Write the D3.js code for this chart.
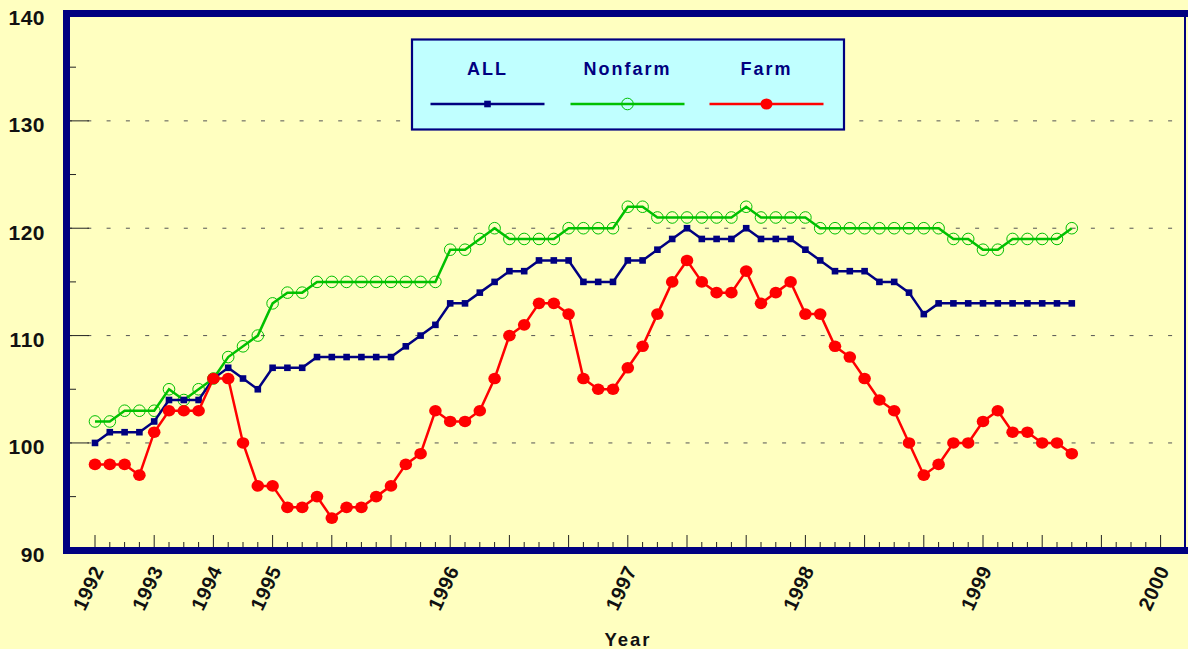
<!DOCTYPE html>
<html>
<head>
<meta charset="utf-8">
<script src="https://cdn.jsdelivr.net/npm/d3@7"></script>
<style>
  html, body { margin: 0; padding: 0; background: #FFFFC0; }
  svg { display: block; }
  text { font-family: "Liberation Sans", Arial, sans-serif; font-weight: bold; }
</style>
</head>
<body>
<svg id="chart" width="1188" height="649"></svg>
<script>
// ---- Data ----
// Periods: quarterly 1992-1994, then monthly Jan 1995 - Jul 1999
const quarterPeriods = [];
[1992, 1993, 1994].forEach(y => [1,2,3,4].forEach(q => quarterPeriods.push(y + " Q" + q)));
const monthPeriods = [];
[1995, 1996, 1997, 1998, 1999].forEach(y => {
  for (let m = 1; m <= 12; m++) { if (y === 1999 && m > 7) break; monthPeriods.push(y + "-" + String(m).padStart(2, "0")); }
});
const periods = quarterPeriods.concat(monthPeriods);

const allValues = [100,101,101,101, 102,104,104,104, 106,107,106,105,
  107,107,107,108,108,108,108,108,108,109,110,111,
  113,113,114,115,116,116,117,117,117,115,115,115,
  117,117,118,119,120,119,119,119,120,119,119,119,
  118,117,116,116,116,115,115,114,112,113,113,113,
  113,113,113,113,113,113,113];

const nonfarmValues = [102,102,103,103, 103,105,104,105, 106,108,109,110,
  113,114,114,115,115,115,115,115,115,115,115,115,
  118,118,119,120,119,119,119,119,120,120,120,120,
  122,122,121,121,121,121,121,121,122,121,121,121,
  121,120,120,120,120,120,120,120,120,120,119,119,
  118,118,119,119,119,119,120];

const farmValues = [98,98,98,97, 101,103,103,103, 106,106,100,96,
  96,94,94,95,93,94,94,95,96,98,99,103,
  102,102,103,106,110,111,113,113,112,106,105,105,
  107,109,112,115,117,115,114,114,116,113,114,115,
  112,112,109,108,106,104,103,100,97,98,100,100,
  102,103,101,101,100,100,99];

const seriesNames = ["ALL", "Nonfarm", "Farm"];
const yearTickLabels = ["1992","1993","1994","1995","1996","1997","1998","1999","2000"];
const yearTickIndex  = [0, 4, 8, 12, 24, 36, 48, 60, 72];
const yTickLabels = [90, 100, 110, 120, 130, 140];
const yMinorTicks = [95, 105, 115, 125, 135];

// ---- Layout ----
const svg = d3.select("#chart");
const W = 1188, H = 649;
const plotLeft = 66.5, plotRight = 1185, plotTop = 13.5, plotBottom = 550.5;

const x = d3.scaleLinear().domain([0, 72]).range([95, 1160.6]);
const y = d3.scaleLinear().domain([90, 140]).range([550.3, 13.5]);

const navy = "#000080", green = "#00C000", red = "#FF0000";

svg.append("rect").attr("width", W).attr("height", H).attr("fill", "#FFFFC0");

// Gridlines (dashed)
const gridG = svg.append("g");
[100, 110, 120, 130].forEach(v => {
  gridG.append("line")
    .attr("x1", 70).attr("x2", plotRight - 2)
    .attr("y1", y(v)).attr("y2", y(v))
    .attr("stroke", "#555").attr("stroke-width", 1)
    .attr("stroke-dasharray", "4 15.3").attr("stroke-dashoffset", -17.3);
  gridG.append("line")
    .attr("x1", 70).attr("x2", 89)
    .attr("y1", y(v)).attr("y2", y(v))
    .attr("stroke", "#222").attr("stroke-width", 1);
});
// Y minor ticks
yMinorTicks.forEach(v => {
  gridG.append("line")
    .attr("x1", 70).attr("x2", 76)
    .attr("y1", y(v)).attr("y2", y(v))
    .attr("stroke", "#222").attr("stroke-width", 1);
});

// X ticks
const tickG = svg.append("g");
d3.range(0, 73).forEach(i => {
  const major = i % 4 === 0;
  tickG.append("line")
    .attr("x1", x(i)).attr("x2", x(i))
    .attr("y1", 547).attr("y2", major ? 535 : 542)
    .attr("stroke", "#222").attr("stroke-width", 1);
});

// Borders
svg.append("line").attr("x1", 63).attr("x2", 1188).attr("y1", plotTop).attr("y2", plotTop)
  .attr("stroke", navy).attr("stroke-width", 7);
svg.append("line").attr("x1", 63).attr("x2", 1188).attr("y1", plotBottom).attr("y2", plotBottom)
  .attr("stroke", navy).attr("stroke-width", 7);
svg.append("line").attr("x1", plotLeft).attr("x2", plotLeft).attr("y1", 10).attr("y2", 554)
  .attr("stroke", navy).attr("stroke-width", 7);
svg.append("line").attr("x1", plotRight).attr("x2", plotRight).attr("y1", 10).attr("y2", 554)
  .attr("stroke", navy).attr("stroke-width", 2);

// Y labels
svg.append("g").selectAll("text").data(yTickLabels).join("text")
  .attr("x", 45).attr("y", d => y(d) + 11.5)
  .attr("text-anchor", "end").attr("font-size", 21).attr("letter-spacing", 0.5)
  .attr("fill", "#111").text(d => d);

// X labels (rotated)
svg.append("g").selectAll("text").data(yearTickLabels).join("text")
  .attr("transform", (d, i) => `translate(${x(yearTickIndex[i]) + 3},${567}) rotate(-65)`)
  .attr("text-anchor", "end").attr("dy", "0.35em")
  .attr("font-size", 20).attr("letter-spacing", 0.5)
  .attr("fill", "#111").text(d => d);

// Axis title
svg.append("text").attr("x", 628).attr("y", 645.5).attr("text-anchor", "middle")
  .attr("font-size", 18.5).attr("letter-spacing", 2).attr("fill", "#111").text("Year");

// Lines
const line = d3.line().x((d, i) => x(i)).y(d => y(d));
const seriesG = svg.append("g");

seriesG.append("path").datum(nonfarmValues).attr("d", line)
  .attr("fill", "none").attr("stroke", green).attr("stroke-width", 2.5);
seriesG.append("g").selectAll("circle").data(nonfarmValues).join("circle")
  .attr("cx", (d, i) => x(i)).attr("cy", d => y(d)).attr("r", 5.8)
  .attr("fill", "none").attr("stroke", green).attr("stroke-width", 1);

seriesG.append("path").datum(allValues).attr("d", line)
  .attr("fill", "none").attr("stroke", navy).attr("stroke-width", 2.5);
seriesG.append("g").selectAll("rect").data(allValues).join("rect")
  .attr("x", (d, i) => x(i) - 3.3).attr("y", d => y(d) - 3.3)
  .attr("width", 6.6).attr("height", 6.6).attr("fill", navy);

seriesG.append("path").datum(farmValues).attr("d", line)
  .attr("fill", "none").attr("stroke", red).attr("stroke-width", 2.5);
seriesG.append("g").selectAll("ellipse").data(farmValues).join("ellipse")
  .attr("cx", (d, i) => x(i)).attr("cy", d => y(d)).attr("rx", 6.3).attr("ry", 5.8)
  .attr("fill", red);

// Legend
const lg = svg.append("g");
lg.append("rect").attr("x", 412).attr("y", 39.5).attr("width", 432).attr("height", 90)
  .attr("fill", "#C0FFFF").attr("stroke", navy).attr("stroke-width", 2.2);
const legendCenters = [487.5, 627.5, 766.5];
const legendColors = [navy, green, red];
seriesNames.forEach((name, k) => {
  const cx = legendCenters[k];
  lg.append("text").attr("x", cx).attr("y", 75).attr("text-anchor", "middle")
    .attr("font-size", 18).attr("letter-spacing", 2).attr("fill", navy).text(name);
  lg.append("line").attr("x1", cx - 57).attr("x2", cx + 57).attr("y1", 104).attr("y2", 104)
    .attr("stroke", legendColors[k]).attr("stroke-width", 2.5);
  if (k === 0) {
    lg.append("rect").attr("x", cx - 3.3).attr("y", 104 - 3.3).attr("width", 6.6).attr("height", 6.6).attr("fill", navy);
  } else if (k === 1) {
    lg.append("circle").attr("cx", cx).attr("cy", 104).attr("r", 5.8).attr("fill", "none").attr("stroke", green).attr("stroke-width", 1);
  } else {
    lg.append("ellipse").attr("cx", cx).attr("cy", 104).attr("rx", 6).attr("ry", 5.6).attr("fill", red);
  }
});
</script>
</body>
</html>
